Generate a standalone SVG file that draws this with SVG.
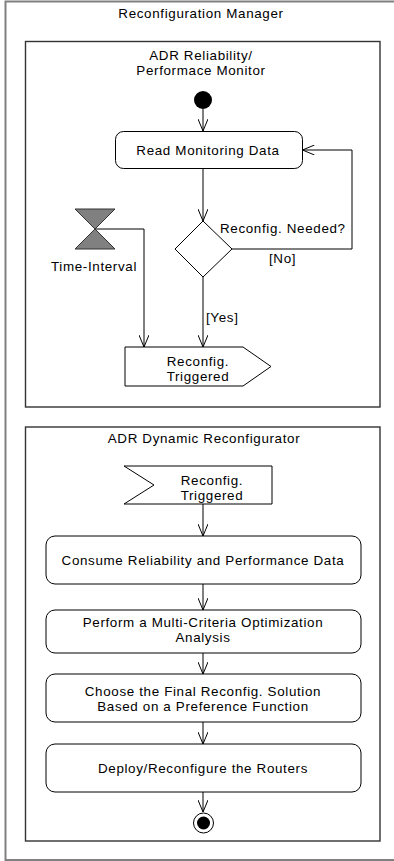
<svg xmlns="http://www.w3.org/2000/svg" width="394" height="861" viewBox="0 0 394 861">
<defs>
<marker id="arr" viewBox="0 0 12 10" refX="12" refY="5" markerWidth="12" markerHeight="10" markerUnits="userSpaceOnUse" orient="auto">
<path d="M0,0 L12,5 L0,10" fill="none" stroke="#000" stroke-width="1"/>
</marker>
</defs>
<style>
text{font-family:"Liberation Sans",Arial,sans-serif;font-size:13.4px;letter-spacing:0.65px;fill:#000}
.c{text-anchor:middle}
.frame{fill:none;stroke:#808080;stroke-width:2}
.part{fill:#fff;stroke:#333;stroke-width:1.4}
.act{fill:#fff;stroke:#000;stroke-width:1}
.edge{fill:none;stroke:#000;stroke-width:1;marker-end:url(#arr)}
</style>
<rect width="394" height="861" fill="#fff"/>
<g id="manager">
<rect class="frame" x="5.5" y="1.5" width="400" height="858.5"/>
<text class="c" x="201" y="18">Reconfiguration Manager</text>
</g>
<g id="monitor">
<rect class="part" x="25.5" y="41.5" width="354.5" height="365.5"/>
<text class="c" x="201" y="59.5">ADR Reliability/</text>
<text class="c" x="201" y="74.5">Performace Monitor</text>
</g>
<g id="reconfigurator">
<rect class="part" x="25.5" y="427" width="354.5" height="414"/>
<text class="c" x="204" y="443">ADR Dynamic Reconfigurator</text>
</g>
<g id="connectors">
<line class="edge" x1="203" y1="109" x2="203" y2="131"/>
<line class="edge" x1="203" y1="168" x2="203" y2="221"/>
<polyline class="edge" points="232,249 352,249 352,150 302.5,150"/>
<line class="edge" x1="203" y1="277" x2="203" y2="347"/>
<polyline class="edge" points="95,229 144,229 144,347"/>
<line class="edge" x1="203" y1="504" x2="203" y2="536"/>
<line class="edge" x1="203" y1="584" x2="203" y2="610"/>
<line class="edge" x1="203" y1="653" x2="203" y2="674"/>
<line class="edge" x1="203" y1="722" x2="203" y2="744"/>
<line class="edge" x1="203" y1="792" x2="203" y2="812"/>
<text x="269" y="263">[No]</text>
<text x="206" y="322">[Yes]</text>
</g>
<g id="start">
<circle cx="203" cy="100" r="9" fill="#000"/>
</g>
<g id="read">
<rect class="act" x="115.5" y="131.5" width="187" height="37" rx="8"/>
<text class="c" x="208" y="155">Read Monitoring Data</text>
</g>
<g id="decision">
<polygon class="act" points="203,221 232,249 203,277 175,249"/>
<text x="220" y="233">Reconfig. Needed?</text>
</g>
<g id="timer">
<polygon points="75,209 115,209 95,229 115,249 75,249 95,229" fill="#808080" stroke="#333" stroke-width="1"/>
<text class="c" x="94" y="271">Time-Interval</text>
</g>
<g id="send">
<polygon class="act" points="125,347 243,347 271,366.5 243,386 125,386"/>
<text class="c" x="198" y="365.5">Reconfig.</text>
<text class="c" x="198" y="380.5">Triggered</text>
</g>
<g id="accept">
<polygon class="act" points="124,466 272,466 272,504 124,504 154,485"/>
<text class="c" x="212" y="484.5">Reconfig.</text>
<text class="c" x="212" y="499.5">Triggered</text>
</g>
<g id="consume">
<rect class="act" x="46" y="536" width="315" height="48" rx="9"/>
<text class="c" x="203" y="565">Consume Reliability and Performance Data</text>
</g>
<g id="perform">
<rect class="act" x="46" y="610" width="315" height="43" rx="9"/>
<text class="c" x="203" y="626.5">Perform a Multi-Criteria Optimization</text>
<text class="c" x="203" y="641.5">Analysis</text>
</g>
<g id="choose">
<rect class="act" x="46" y="674" width="315" height="48" rx="9"/>
<text class="c" x="203" y="696">Choose the Final Reconfig. Solution</text>
<text class="c" x="203" y="711">Based on a Preference Function</text>
</g>
<g id="deploy">
<rect class="act" x="46" y="744" width="315" height="48" rx="9"/>
<text class="c" x="203" y="773">Deploy/Reconfigure the Routers</text>
</g>
<g id="final">
<circle cx="203.5" cy="823" r="10" fill="#fff" stroke="#000" stroke-width="1"/>
<circle cx="203.5" cy="823" r="6.5" fill="#000"/>
</g>
</svg>
